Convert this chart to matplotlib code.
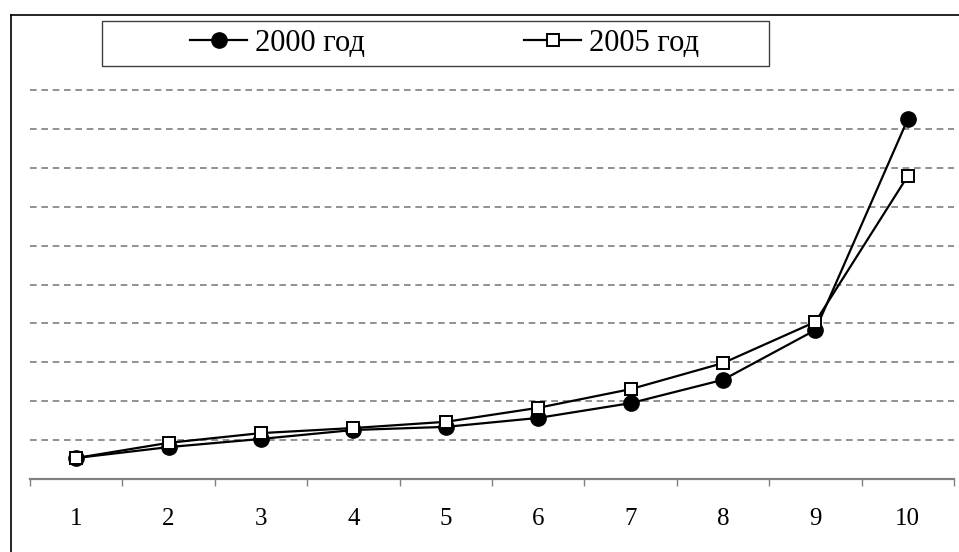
import matplotlib
matplotlib.use("Agg")
import matplotlib.pyplot as plt
from matplotlib.lines import Line2D
from matplotlib.patches import Rectangle
from matplotlib.ticker import FixedLocator

plt.rcParams['font.family'] = ['Liberation Serif', 'DejaVu Serif']

# данные (в делениях сетки)
categories = ['1', '2', '3', '4', '5', '6', '7', '8', '9', '10']
y2000 = [0.54, 0.82, 1.03, 1.26, 1.34, 1.57, 1.95, 2.55, 3.83, 9.25]
y2005 = [0.54, 0.93, 1.18, 1.31, 1.47, 1.83, 2.31, 2.98, 4.04, 7.79]
labels = ['2000 год', '2005 год']

W, H = 959, 552
fig = plt.figure(figsize=(W / 100, H / 100), dpi=100)
ax = fig.add_axes([30 / W, (H - 479) / H, 924 / W, 389 / H])

x = list(range(len(categories)))
ax.plot(x, y2000, color='black', lw=1.6, marker='o', ms=11,
        mfc='black', mec='black', label=labels[0], zorder=3)
ax.plot(x, y2005, color='black', lw=1.6, marker='s', ms=8,
        mfc='white', mec='black', mew=1.4, label=labels[1], zorder=4)

ax.set_xlim(-0.5, len(categories) - 0.5)
ax.set_ylim(0, 10)

# пунктирная сетка
for k in range(1, 11):
    ax.axhline(k, color='#7f7f7f', lw=1.2, ls=(0, (4, 2.8)), zorder=1, clip_on=False)

for s in ['left', 'top', 'right']:
    ax.spines[s].set_visible(False)
ax.spines['bottom'].set_color('#808080')
ax.spines['bottom'].set_linewidth(1.6)

ax.set_yticks([])
ax.set_xticks(x)
ax.set_xticklabels(categories, fontsize=18)
ax.tick_params(axis='x', which='major', length=0, pad=21)
ax.xaxis.set_minor_locator(FixedLocator([i - 0.5 for i in range(len(categories) + 1)]))
ax.tick_params(axis='x', which='minor', length=5, width=1, color='#808080', direction='out')

# легенда
leg = fig.legend(loc='center left', bbox_to_anchor=(190 / W, 1 - 43.5 / H),
                 ncol=2, frameon=False, fontsize=22, handlelength=1.87,
                 handletextpad=0.26, columnspacing=5.2, borderpad=0,
                 borderaxespad=0)
fig.patches.append(Rectangle((102 / W, 1 - 66 / H), 667 / W, 45 / H,
                             transform=fig.transFigure, fill=False,
                             edgecolor='#404040', lw=1))

# рамка рисунка
fig.lines.append(Line2D([11 / W, 11 / W], [0, 1 - 15 / H], transform=fig.transFigure,
                        color='black', lw=1.2))
fig.lines.append(Line2D([11 / W, 1], [1 - 15 / H, 1 - 15 / H], transform=fig.transFigure,
                        color='black', lw=1.2))

fig.savefig('out.png', dpi=100)
